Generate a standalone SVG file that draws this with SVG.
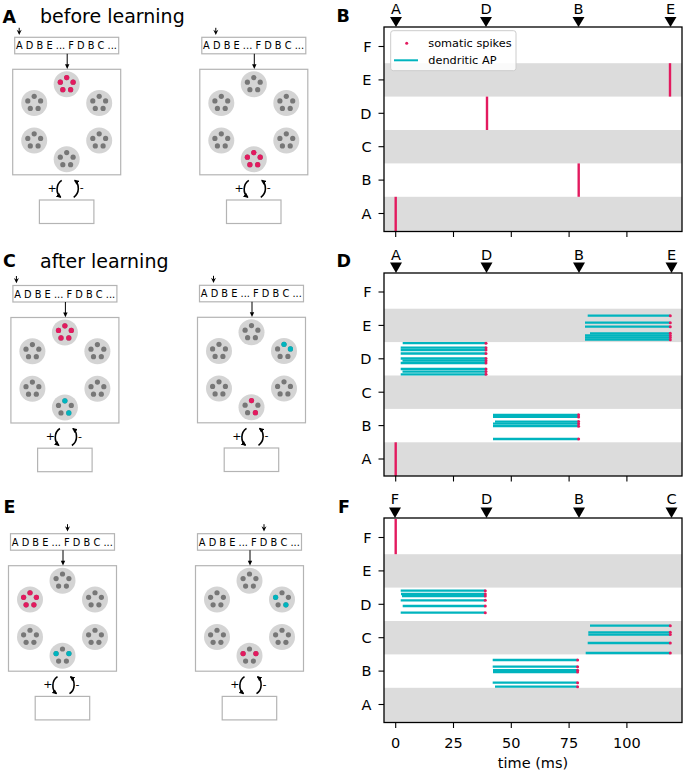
<svg xmlns="http://www.w3.org/2000/svg" xmlns:xlink="http://www.w3.org/1999/xlink" width="685" height="775" viewBox="0 0 685 775">
<style>
.t{font-family:"DejaVu Sans","Liberation Sans",sans-serif;fill:#000}
.lbl{font-size:17.5px;font-weight:bold}
.ttl{font-size:19px}
.seq{font-size:9.8px}
.pm{font-size:11px}
.box{fill:#fff;stroke:#b4b4b4;stroke-width:1.2}
.pop{fill:#d4d4d4}
.g{fill:#777}
.p{fill:#e31a5f}
.c{fill:#00b4be}
.band{fill:#dcdcdc}
.frame{fill:none;stroke:#000;stroke-width:1.3}
.tick{stroke:#000;stroke-width:1.1}
.tl{font-size:14.5px}
.lg{font-size:11.3px}
.dap{stroke:#00b4be;stroke-width:2.3;marker-end:url(#sp)}
.spk{stroke:#e31a5f;stroke-width:2.4}
.arr{stroke:#000;stroke-width:1;fill:none}
.curv{stroke:#000;stroke-width:1.6;fill:none;marker-end:url(#ah)}
</style>
<defs>
<marker id="sp" markerUnits="userSpaceOnUse" viewBox="-2 -2 4 4" markerWidth="4" markerHeight="4" refX="-0.3" refY="0" orient="0">
<circle r="1.5" fill="#e31a5f"/>
</marker>
<marker id="ah" markerUnits="userSpaceOnUse" viewBox="0 0 6 6" markerWidth="5" markerHeight="5" refX="5" refY="3" orient="auto">
<path d="M0,0 L6,3 L0,6 z" fill="#000"/>
</marker>
<g id="popg">
<circle r="13" class="pop"/>
<circle cx="0" cy="-6.7" r="2.6" class="g"/>
<circle cx="6.4" cy="-2.1" r="2.6" class="g"/>
<circle cx="3.9" cy="5.4" r="2.6" class="g"/>
<circle cx="-3.9" cy="5.4" r="2.6" class="g"/>
<circle cx="-6.4" cy="-2.1" r="2.6" class="g"/>
</g>
<g id="allp">
<circle cx="0" cy="-6.7" r="2.6" class="p"/>
<circle cx="6.4" cy="-2.1" r="2.6" class="p"/>
<circle cx="3.9" cy="5.4" r="2.6" class="p"/>
<circle cx="-3.9" cy="5.4" r="2.6" class="p"/>
<circle cx="-6.4" cy="-2.1" r="2.6" class="p"/>
</g>
<g id="frameBase">
<rect class="box" x="-52" y="-32" width="104" height="16.5"/>
<text class="t seq" x="-50.7" y="-20" textLength="101" lengthAdjust="spacing">A D B E ... F D B C ...</text>
<rect class="box" x="-54" y="0" width="108" height="105.5"/>
<use href="#popg" x="0" y="15"/>
<use href="#popg" x="-32.5" y="33.75"/>
<use href="#popg" x="32.5" y="33.75"/>
<use href="#popg" x="-32.5" y="71.25"/>
<use href="#popg" x="32.5" y="71.25"/>
<use href="#popg" x="0" y="90"/>
<text class="t pm" x="-14.6" y="122.5" text-anchor="middle">+</text>
<text class="t pm" x="15" y="122" text-anchor="middle">-</text>
<rect class="box" x="-27.3" y="130.7" width="54.5" height="23.5"/>
</g>
<g id="conn">
<line class="arr" x1="0.5" y1="-15.5" x2="0.5" y2="-4.5"/>
<polygon points="-1.7,-5 2.7,-5 0.5,-0.3" fill="#000"/>
<path class="curv" d="M -5,111 C -11,115 -11,124 -6,128"/>
<path class="curv" d="M 7,128 C 13,124 13,115 8,111"/>
</g>
<g id="cue">
<line x1="0" y1="-41.5" x2="0" y2="-37.5" stroke="#000" stroke-width="1"/>
<polygon points="-2.5,-39.5 0,-34.3 2.5,-39.5 0,-37.8" fill="#000"/>
</g>
</defs>

<!-- panel labels and titles -->
<g id="labels">
<text class="t lbl" x="2.5" y="22.7">A</text>
<text class="t ttl" x="40" y="22.7">before learning</text>
<text class="t lbl" x="336.5" y="21.7">B</text>
<text class="t lbl" x="3" y="266.7">C</text>
<text class="t ttl" x="40" y="267.5">after learning</text>
<text class="t lbl" x="336.5" y="266.7">D</text>
<text class="t lbl" x="3.5" y="512.5">E</text>
<text class="t lbl" x="338" y="512.5">F</text>
</g>

<!-- schematic nodes -->
<g id="schemA1" transform="translate(66.7,69.3)">
<use href="#frameBase"/>
<use href="#allp" x="0" y="15"/>
</g>
<g id="schemA2" transform="translate(253.8,69.3)">
<use href="#frameBase"/>
<use href="#allp" x="0" y="90"/>
</g>
<g id="schemC1" transform="translate(64.9,317.5)">
<use href="#frameBase"/>
<use href="#allp" x="0" y="15"/>
<circle cx="0" cy="83.3" r="2.6" class="c"/>
<circle cx="3.9" cy="95.4" r="2.6" class="c"/>
</g>
<g id="schemC2" transform="translate(251.5,317.3)">
<use href="#frameBase"/>
<circle cx="32.5" cy="27.05" r="2.6" class="c"/>
<circle cx="38.9" cy="31.65" r="2.6" class="c"/>
<circle cx="0" cy="83.3" r="2.6" class="p"/>
<circle cx="3.9" cy="95.4" r="2.6" class="p"/>
</g>
<g id="schemE1" transform="translate(62.5,565.7)">
<use href="#frameBase"/>
<use href="#allp" x="-32.5" y="33.75"/>
<circle cx="-6.4" cy="87.9" r="2.6" class="c"/>
<circle cx="6.4" cy="87.9" r="2.6" class="c"/>
</g>
<g id="schemE2" transform="translate(249.5,565.7)">
<use href="#frameBase"/>
<circle cx="26.1" cy="31.65" r="2.6" class="c"/>
<circle cx="36.4" cy="39.15" r="2.6" class="c"/>
<circle cx="-6.4" cy="87.9" r="2.6" class="p"/>
<circle cx="6.4" cy="87.9" r="2.6" class="p"/>
</g>

<!-- connectors -->
<g id="connectors">
<g transform="translate(66.7,69.3)"><use href="#conn"/><use href="#cue" x="-47.5"/></g>
<g transform="translate(253.8,69.3)"><use href="#conn"/><use href="#cue" x="-38"/></g>
<g transform="translate(64.9,317.5)"><use href="#conn"/><use href="#cue" x="-48.5"/></g>
<g transform="translate(251.5,317.3)"><use href="#conn"/><use href="#cue" x="-38"/></g>
<g transform="translate(62.5,565.7)"><use href="#conn"/><use href="#cue" x="5"/></g>
<g transform="translate(249.5,565.7)"><use href="#conn"/><use href="#cue" x="14.5"/></g>
</g>

<!-- panel B -->
<g id="plotB">
<rect class="band" x="384" y="63.2" width="298" height="33.4"/>
<rect class="band" x="384" y="130" width="298" height="33.4"/>
<rect class="band" x="384" y="196.8" width="298" height="34.7"/>
<line class="spk" x1="670" y1="63.2" x2="670" y2="96.6"/>
<line class="spk" x1="487" y1="96.6" x2="487" y2="130"/>
<line class="spk" x1="578.7" y1="163.4" x2="578.7" y2="196.8"/>
<line class="spk" x1="395.7" y1="196.8" x2="395.7" y2="231.5"/>
<rect x="390.7" y="30.7" width="125.3" height="40" rx="2.5" fill="#fff" fill-opacity="0.85" stroke="#cccccc" stroke-width="1"/>
<circle cx="406.7" cy="43.3" r="1.5" fill="#e31a5f"/>
<text class="t lg" x="428.3" y="47">somatic spikes</text>
<line x1="394" y1="60.3" x2="418" y2="60.3" stroke="#00b4be" stroke-width="2"/>
<text class="t lg" x="428.3" y="64">dendritic AP</text>
<rect class="frame" x="384" y="27" width="298" height="204.5"/>
<g class="tick">
<line x1="378.5" y1="46.5" x2="384" y2="46.5"/><line x1="378.5" y1="79.9" x2="384" y2="79.9"/><line x1="378.5" y1="113.3" x2="384" y2="113.3"/><line x1="378.5" y1="146.7" x2="384" y2="146.7"/><line x1="378.5" y1="180.1" x2="384" y2="180.1"/><line x1="378.5" y1="213.5" x2="384" y2="213.5"/>
<line x1="395.7" y1="231.5" x2="395.7" y2="237"/><line x1="453.5" y1="231.5" x2="453.5" y2="237"/><line x1="511.3" y1="231.5" x2="511.3" y2="237"/><line x1="569.1" y1="231.5" x2="569.1" y2="237"/><line x1="626.9" y1="231.5" x2="626.9" y2="237"/>
</g>
<g class="t tl" text-anchor="end">
<text x="371.5" y="51.8">F</text><text x="371.5" y="85.2">E</text><text x="371.5" y="118.6">D</text><text x="371.5" y="152">C</text><text x="371.5" y="185.4">B</text><text x="371.5" y="218.8">A</text>
</g>
<polygon points="390,17 402,17 396,27" fill="#000"/>
<polygon points="480,17 492,17 486,27" fill="#000"/>
<polygon points="572.5,17 584.5,17 578.5,27" fill="#000"/>
<polygon points="664.5,17 676.5,17 670.5,27" fill="#000"/>
<g class="t tl" text-anchor="middle">
<text x="396" y="13.5">A</text><text x="486" y="13.5">D</text><text x="578.5" y="13.5">B</text><text x="670.5" y="13.5">E</text>
</g>
</g>

<!-- panel D -->
<g id="plotD">
<rect class="band" x="384" y="308.7" width="298" height="33.4"/>
<rect class="band" x="384" y="375.5" width="298" height="33.4"/>
<rect class="band" x="384" y="442.3" width="298" height="33.7"/>
<line class="spk" x1="395.7" y1="442.3" x2="395.7" y2="476"/>
<line class="dap" x1="587.7" y1="315.7" x2="670" y2="315.7"/>
<line class="dap" x1="585" y1="322.7" x2="670" y2="322.7"/>
<line class="dap" x1="585" y1="326.7" x2="670" y2="326.7"/>
<line class="dap" x1="590" y1="333.3" x2="670" y2="333.3"/>
<line class="dap" x1="585" y1="335.5" x2="670" y2="335.5"/>
<line class="dap" x1="585" y1="337.6" x2="670" y2="337.6"/>
<line class="dap" x1="585" y1="339.7" x2="670" y2="339.7"/>
<line class="dap" x1="402.7" y1="343.2" x2="485.7" y2="343.2"/>
<line class="dap" x1="400.7" y1="347.7" x2="485.7" y2="347.7"/>
<line class="dap" x1="400.7" y1="350" x2="485.7" y2="350"/>
<line class="dap" x1="400.7" y1="353.5" x2="485.7" y2="353.5"/>
<line class="dap" x1="400.7" y1="358.5" x2="485.7" y2="358.5"/>
<line class="dap" x1="402.5" y1="360.7" x2="485.7" y2="360.7"/>
<line class="dap" x1="400.7" y1="363" x2="485.7" y2="363"/>
<line class="dap" x1="400.7" y1="369" x2="485.7" y2="369"/>
<line class="dap" x1="402.5" y1="371.6" x2="485.7" y2="371.6"/>
<line class="dap" x1="400.7" y1="374.3" x2="485.7" y2="374.3"/>
<line class="dap" x1="493" y1="414.8" x2="578.3" y2="414.8"/>
<line class="dap" x1="493" y1="416.9" x2="578.3" y2="416.9"/>
<line class="dap" x1="495" y1="421.6" x2="578.3" y2="421.6"/>
<line class="dap" x1="493" y1="423.7" x2="578.3" y2="423.7"/>
<line class="dap" x1="493" y1="426.2" x2="578.3" y2="426.2"/>
<line class="dap" x1="493" y1="439" x2="578.3" y2="439"/>
<rect class="frame" x="384" y="273" width="298" height="203"/>
<g class="tick">
<line x1="378.5" y1="292" x2="384" y2="292"/><line x1="378.5" y1="325.4" x2="384" y2="325.4"/><line x1="378.5" y1="358.8" x2="384" y2="358.8"/><line x1="378.5" y1="392.2" x2="384" y2="392.2"/><line x1="378.5" y1="425.6" x2="384" y2="425.6"/><line x1="378.5" y1="459" x2="384" y2="459"/>
<line x1="395.7" y1="476" x2="395.7" y2="481.5"/><line x1="453.5" y1="476" x2="453.5" y2="481.5"/><line x1="511.3" y1="476" x2="511.3" y2="481.5"/><line x1="569.1" y1="476" x2="569.1" y2="481.5"/><line x1="626.9" y1="476" x2="626.9" y2="481.5"/>
</g>
<g class="t tl" text-anchor="end">
<text x="371.5" y="297.3">F</text><text x="371.5" y="330.7">E</text><text x="371.5" y="364.1">D</text><text x="371.5" y="397.5">C</text><text x="371.5" y="430.9">B</text><text x="371.5" y="464.3">A</text>
</g>
<polygon points="390,262.5 402,262.5 396,273" fill="#000"/>
<polygon points="480.5,262.5 492.5,262.5 486.5,273" fill="#000"/>
<polygon points="573,262.5 585,262.5 579,273" fill="#000"/>
<polygon points="665.5,262.5 677.5,262.5 671.5,273" fill="#000"/>
<g class="t tl" text-anchor="middle">
<text x="396" y="259.5">A</text><text x="486.5" y="259.5">D</text><text x="579" y="259.5">B</text><text x="671.5" y="259.5">E</text>
</g>
</g>

<!-- panel F -->
<g id="plotF">
<rect class="band" x="384" y="554.2" width="298" height="33.4"/>
<rect class="band" x="384" y="621" width="298" height="33.4"/>
<rect class="band" x="384" y="687.8" width="298" height="34.7"/>
<line class="spk" x1="395.7" y1="519" x2="395.7" y2="554.2"/>
<line class="dap" x1="400.7" y1="590.7" x2="485" y2="590.7"/>
<line class="dap" x1="401" y1="594" x2="485" y2="594"/>
<line class="dap" x1="402" y1="596" x2="485" y2="596"/>
<line class="dap" x1="400.7" y1="600.3" x2="485" y2="600.3"/>
<line class="dap" x1="402.7" y1="606" x2="485" y2="606"/>
<line class="dap" x1="400.7" y1="612.7" x2="485" y2="612.7"/>
<line class="dap" x1="590" y1="625.7" x2="670" y2="625.7"/>
<line class="dap" x1="588.3" y1="632.3" x2="670" y2="632.3"/>
<line class="dap" x1="588.3" y1="634.6" x2="670" y2="634.6"/>
<line class="dap" x1="587.7" y1="643" x2="670" y2="643"/>
<line class="dap" x1="585.7" y1="653" x2="670" y2="653"/>
<line class="dap" x1="492.7" y1="660" x2="577.3" y2="660"/>
<line class="dap" x1="492.7" y1="666.7" x2="577.3" y2="666.7"/>
<line class="dap" x1="493" y1="670.2" x2="577.3" y2="670.2"/>
<line class="dap" x1="493" y1="672.1" x2="577.3" y2="672.1"/>
<line class="dap" x1="492.7" y1="682.7" x2="577.3" y2="682.7"/>
<line class="dap" x1="495" y1="686.7" x2="577.3" y2="686.7"/>
<rect class="frame" x="384" y="518" width="298" height="204.5"/>
<g class="tick">
<line x1="378.5" y1="537.5" x2="384" y2="537.5"/><line x1="378.5" y1="570.9" x2="384" y2="570.9"/><line x1="378.5" y1="604.3" x2="384" y2="604.3"/><line x1="378.5" y1="637.7" x2="384" y2="637.7"/><line x1="378.5" y1="671.1" x2="384" y2="671.1"/><line x1="378.5" y1="704.5" x2="384" y2="704.5"/>
<line x1="395.7" y1="722.5" x2="395.7" y2="728"/><line x1="453.5" y1="722.5" x2="453.5" y2="728"/><line x1="511.3" y1="722.5" x2="511.3" y2="728"/><line x1="569.1" y1="722.5" x2="569.1" y2="728"/><line x1="626.9" y1="722.5" x2="626.9" y2="728"/>
</g>
<g class="t tl" text-anchor="end">
<text x="371.5" y="542.8">F</text><text x="371.5" y="576.2">E</text><text x="371.5" y="609.6">D</text><text x="371.5" y="643">C</text><text x="371.5" y="676.4">B</text><text x="371.5" y="709.8">A</text>
</g>
<g class="t tl" text-anchor="middle">
<text x="395.7" y="748">0</text><text x="453.5" y="748">25</text><text x="511.3" y="748">50</text><text x="569.1" y="748">75</text><text x="626.9" y="748">100</text>
<text x="533" y="767.5">time (ms)</text>
</g>
<polygon points="389,507.5 401,507.5 395,518" fill="#000"/>
<polygon points="480.5,507.5 492.5,507.5 486.5,518" fill="#000"/>
<polygon points="573,507.5 585,507.5 579,518" fill="#000"/>
<polygon points="665.5,507.5 677.5,507.5 671.5,518" fill="#000"/>
<g class="t tl" text-anchor="middle">
<text x="395" y="504">F</text><text x="486.5" y="504">D</text><text x="579" y="504">B</text><text x="671.5" y="504">C</text>
</g>
</g>
</svg>
